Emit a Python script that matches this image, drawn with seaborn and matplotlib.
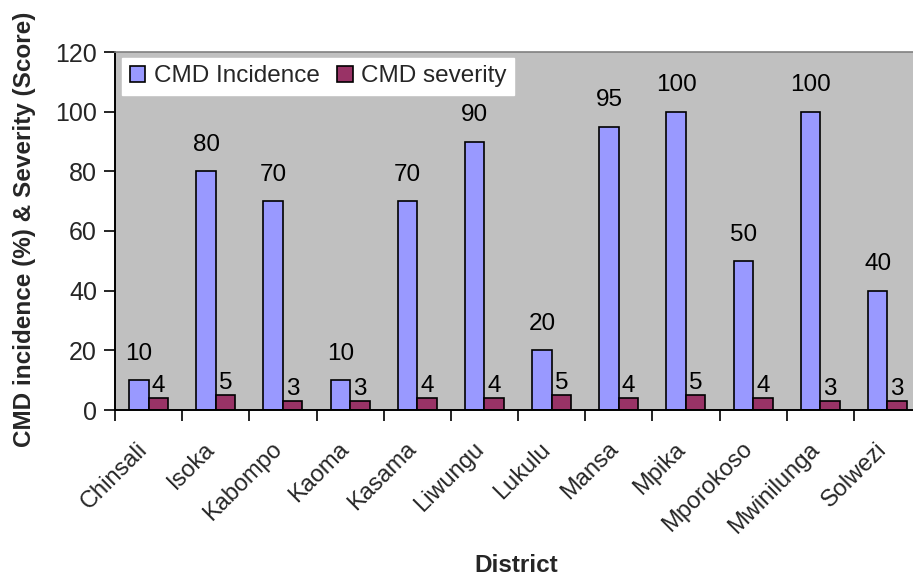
import numpy as np
import pandas as pd
import matplotlib
matplotlib.use("Agg")
import matplotlib.pyplot as plt
import seaborn as sns

districts = ["Chinsali", "Isoka", "Kabompo", "Kaoma", "Kasama", "Liwungu",
             "Lukulu", "Mansa", "Mpika", "Mporokoso", "Mwinilunga", "Solwezi"]
incidence = [10, 80, 70, 10, 70, 90, 20, 95, 100, 50, 100, 40]
severity = [4, 5, 3, 3, 4, 4, 5, 4, 5, 4, 3, 3]
series_names = ["CMD Incidence", "CMD severity"]
yticks = [0, 20, 40, 60, 80, 100, 120]

df = pd.DataFrame({
    "District": districts * 2,
    "Value": incidence + severity,
    "Series": [series_names[0]] * len(districts) + [series_names[1]] * len(districts),
})

sns.set_theme(style="white")
plt.rcParams["font.family"] = ["Liberation Sans", "DejaVu Sans"]

fig = plt.figure(figsize=(9.13, 5.76), dpi=100)
ax = fig.add_axes([115 / 913, 1 - 410 / 576, 806 / 913, 358 / 576])
ax.set_facecolor("#C0C0C0")

sns.barplot(data=df, x="District", y="Value", hue="Series",
            palette=["#9999FF", "#993366"], width=0.58, gap=0,
            edgecolor="black", linewidth=1.2, saturation=1, ax=ax)

# value labels: incidence sits higher above its bar than severity
for cont, pad in zip(ax.containers, [11, 0.5]):
    ax.bar_label(cont, labels=[f"{v:g}" for v in cont.datavalues],
                 padding=pad, fontsize=17.5, color="black")

ax.set_xlim(-0.5, len(districts) - 0.5)
ax.set_ylim(0, 120)
ax.set_yticks(yticks)
ax.set_yticklabels([str(t) for t in yticks], fontsize=18)

# district names: rotated, right end of baseline anchored below each group
ax.set_xticks(np.arange(len(districts)))
ax.set_xticklabels(districts, rotation=45, ha="right", va="baseline",
                   rotation_mode="anchor", fontsize=17)
ax.set_xticks(np.arange(len(districts) + 1) - 0.5, minor=True)
ax.tick_params(axis="x", which="major", length=0, pad=29)
ax.tick_params(axis="x", which="minor", length=8, width=1.2, direction="out",
               color="black", bottom=True)
ax.tick_params(axis="y", length=8, width=1.2, direction="out", color="black",
               left=True, pad=5)

for side in ["left", "bottom"]:
    ax.spines[side].set_color("black")
    ax.spines[side].set_linewidth(1.4)
ax.spines["top"].set_color("#808080")
ax.spines["top"].set_linewidth(1.2)
ax.spines["right"].set_visible(False)

ax.set_xlabel("District", fontsize=17.5, fontweight="bold", va="center")
ax.xaxis.set_label_coords((516 - 115) / 806, -(566 - 410) / 358)
ax.set_ylabel("CMD incidence (%) & Severity (Score)", fontsize=17.5,
              fontweight="bold", va="center")
ax.yaxis.set_label_coords(-(115 - 25) / 806, (410 - 229) / 358)

leg = ax.legend(loc="upper left", bbox_to_anchor=(0.009, 0.983), ncol=2,
                fontsize=17.5, frameon=True, fancybox=False, framealpha=1,
                edgecolor="white", facecolor="white", handlelength=0.65,
                handleheight=0.65, handletextpad=0.35, columnspacing=0.7,
                borderpad=0.3, borderaxespad=0)
for h in leg.legend_handles:
    h.set_edgecolor("black")
    h.set_linewidth(1.2)

fig.savefig("out.png", dpi=100)
